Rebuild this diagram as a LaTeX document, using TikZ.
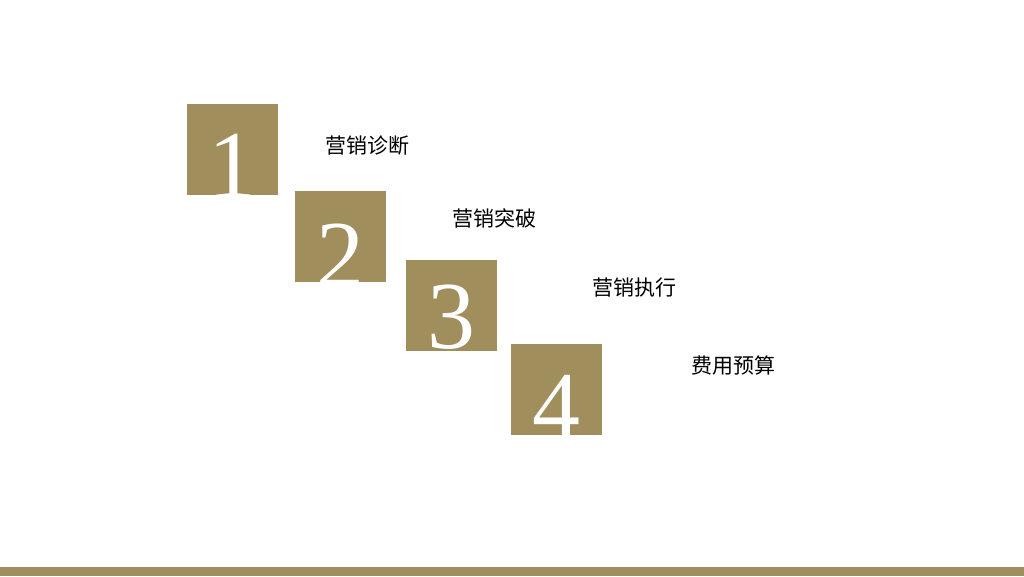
\documentclass[tikz,border=0pt]{standalone}
\usepackage{fontspec}
\setmainfont{Liberation Serif}
\newfontfamily\cjk{Noto Sans CJK SC}
\usepackage{xcolor}
\definecolor{gold}{RGB}{160,142,92}
\newcommand{\tdigit}[1]{\fontsize{96}{96}\selectfont #1}
\newcommand{\tlabel}[1]{{\cjk\fontsize{21}{24}\selectfont #1}}

\tikzset{
  numbox/.style={fill=gold, minimum size=91pt, inner sep=0pt, outer sep=0pt},
  numdigit/.style={text=white, inner sep=0pt, anchor=base},
  steplabel/.style={anchor=west, inner sep=0pt, text=black}
}

\begin{document}
\begin{tikzpicture}[x=1pt,y=-1pt]
  \useasboundingbox (0,0) rectangle (1024,576);
  \fill[white] (0,0) rectangle (1024,576);

  % numbered squares, digits cut off by the square
  \node[numbox, path picture={\node[numdigit] at ([yshift=-2pt]path picture bounding box.south) {\tdigit{1}};}] (n1) at (232.5,149.5) {};
  \node[numbox, path picture={\node[numdigit] at ([yshift=-6pt]path picture bounding box.south) {\tdigit{2}};}] (n2) at (340,236) {};
  \node[numbox, path picture={\node[numdigit] at ([yshift=3pt]path picture bounding box.south) {\tdigit{3}};}] (n3) at (451.5,305.5) {};
  \node[numbox, path picture={\node[numdigit] at ([yshift=-4pt]path picture bounding box.south) {\tdigit{4}};}] (n4) at (556.5,389) {};

  % step labels
  \node[steplabel] (l1) at (325,146) {\tlabel{营销诊断}};
  \node[steplabel] (l2) at (452,218) {\tlabel{营销突破}};
  \node[steplabel] (l3) at (592,288) {\tlabel{营销执行}};
  \node[steplabel] (l4) at (691,366) {\tlabel{费用预算}};

  % bottom bar
  \fill[gold] (0,567) rectangle (1024,576);
\end{tikzpicture}
\end{document}
